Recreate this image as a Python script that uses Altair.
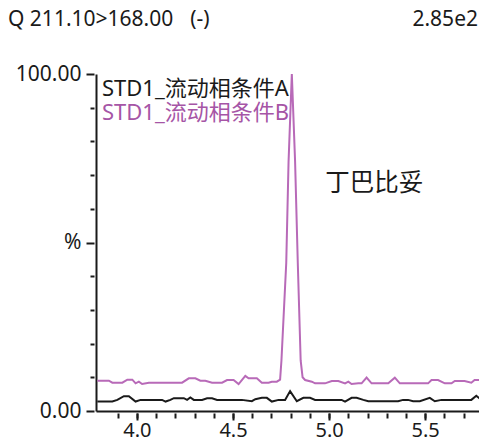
import altair as alt
import pandas as pd

# ---- data ----
A_x = [3.794, 3.872, 3.898, 3.932, 3.958, 3.993, 4.019, 4.131, 4.149, 4.174,
       4.192, 4.244, 4.261, 4.278, 4.296, 4.339, 4.365, 4.391, 4.417, 4.546,
       4.598, 4.616, 4.650, 4.676, 4.702, 4.737, 4.771, 4.797, 4.832, 4.866,
       4.901, 4.927, 5.065, 5.083, 5.117, 5.143, 5.178, 5.204, 5.359, 5.385,
       5.411, 5.437, 5.472, 5.524, 5.550, 5.585, 5.705, 5.740, 5.766, 5.792]
A_y = [2.8, 2.8, 3.3, 4.4, 4.4, 2.8, 3.3, 3.3, 2.8, 3.3,
       3.8, 3.8, 3.3, 4.0, 3.3, 3.3, 3.8, 3.8, 3.3, 3.3,
       2.9, 3.5, 3.9, 3.9, 2.8, 3.3, 3.3, 5.9, 2.9, 3.9,
       3.9, 3.3, 3.3, 2.8, 3.9, 3.9, 3.3, 2.9, 2.9, 3.3,
       3.3, 2.9, 2.9, 3.9, 2.9, 3.3, 3.3, 3.3, 4.5, 3.3]

B_x = [3.794, 3.854, 3.872, 3.924, 3.950, 3.976, 3.993, 4.010, 4.027, 4.062,
       4.235, 4.270, 4.304, 4.330, 4.356, 4.391, 4.443, 4.469, 4.503, 4.529,
       4.564, 4.581, 4.624, 4.650, 4.685, 4.702, 4.728, 4.745, 4.752, 4.777,
       4.789, 4.806, 4.823, 4.837, 4.852, 4.862, 4.875, 4.910, 4.927, 4.979,
       5.014, 5.048, 5.083, 5.100, 5.117, 5.152, 5.169, 5.195, 5.221, 5.308,
       5.342, 5.368, 5.515, 5.533, 5.567, 5.602, 5.637, 5.654, 5.705, 5.740,
       5.757, 5.792]
B_y = [9.0, 9.0, 8.4, 8.4, 9.3, 9.3, 8.2, 8.7, 8.0, 8.4,
       8.4, 9.7, 9.7, 9.0, 9.0, 8.4, 8.4, 9.2, 9.2, 8.0,
       10.4, 9.7, 9.7, 8.4, 8.4, 8.7, 8.7, 9.3, 15, 44,
       74, 100, 74, 44, 15, 10, 9.2, 8.7, 8.2, 8.2,
       8.9, 8.9, 8.2, 8.7, 8.0, 8.2, 8.2, 9.9, 8.2, 8.2,
       9.9, 8.2, 8.2, 9.2, 9.2, 8.2, 8.2, 8.9, 8.9, 8.4,
       9.2, 9.2]

series_names = ["STD1_流动相条件A", "STD1_流动相条件B"]
series_colors = ["#1a1a1a", "#b86ab8"]
legend_text_colors = ["#1a1a1a", "#a655a6"]
title_left = "Q 211.10>168.00"
title_mode = "(-)"
title_right = "2.85e2"
peak_label = ["丁巴比妥"]
peak_label_x = [4.98]
peak_label_y = [67.4]

x_major = [4.0, 4.5, 5.0, 5.5]
x_minor = [round(3.9 + 0.1 * i, 1) for i in range(19)]
y_major = [0, 50, 100]
y_minor = [10, 20, 30, 40, 60, 70, 80, 90]

FONT = "Noto Sans, Noto Sans CJK SC"
AX = "#1a1a1a"

xscale = alt.Scale(domain=[3.787, 5.78], nice=False, zero=False)
yscale = alt.Scale(domain=[0, 100], nice=False)

dfA = pd.DataFrame({"x": A_x, "y": A_y})
dfB = pd.DataFrame({"x": B_x, "y": B_y})
dfP = pd.DataFrame({"x": peak_label_x, "y": peak_label_y, "t": peak_label})
one = pd.DataFrame({"k": [0]})

lineA = alt.Chart(dfA).mark_line(color=series_colors[0], strokeWidth=2, clip=True).encode(
    x=alt.X("x:Q", scale=xscale, axis=alt.Axis(
        orient="bottom", values=x_major, format=".1f", domain=False, offset=2,
        tickSize=7, tickWidth=2, tickColor=AX, grid=False, title=None,
        labelFont=FONT, labelFontSize=20, labelColor=AX, labelPadding=0)),
    y=alt.Y("y:Q", scale=yscale, axis=alt.Axis(
        orient="left", values=y_major, domain=False, offset=2,
        tickSize=8, tickWidth=2, tickColor=AX, grid=False, title=None,
        labelExpr="datum.value == 100 ? '100.00' : datum.value == 0 ? '0.00' : '%'",
        labelFont=FONT, labelFontSize=21, labelColor=AX, labelPadding=5)),
)

lineB = alt.Chart(dfB).mark_line(color=series_colors[1], strokeWidth=2, clip=True).encode(
    x=alt.X("x:Q", scale=xscale, axis=alt.Axis(
        orient="bottom", values=x_minor, labels=False, domain=False, offset=2,
        tickSize=5, tickWidth=2, tickColor=AX, grid=False, title=None)),
    y=alt.Y("y:Q", scale=yscale, axis=alt.Axis(
        orient="left", values=y_minor, labels=False, domain=False, offset=2,
        tickSize=4, tickWidth=2, tickColor=AX, grid=False, title=None)),
)

peak = alt.Chart(dfP).mark_text(
    align="left", baseline="middle", font=FONT, fontSize=24.5, color=AX
).encode(
    x=alt.X("x:Q", scale=xscale, axis=alt.Axis(
        orient="bottom", ticks=False, labels=False, domain=True,
        domainColor=AX, domainWidth=2, grid=False, title=None)),
    y=alt.Y("y:Q", scale=yscale, axis=alt.Axis(
        orient="left", ticks=False, labels=False, domain=True,
        domainColor=AX, domainWidth=2, grid=False, title=None)),
    text="t:N",
)

legA = alt.Chart(one).mark_text(
    align="left", baseline="middle", font=FONT, fontSize=22,
    color=legend_text_colors[0], text=series_names[0]
).encode(x=alt.value(6), y=alt.value(15))
legB = alt.Chart(one).mark_text(
    align="left", baseline="middle", font=FONT, fontSize=22,
    color=legend_text_colors[1], text=series_names[1]
).encode(x=alt.value(6), y=alt.value(39))

tl = alt.Chart(one).mark_text(
    align="left", baseline="middle", font=FONT, fontSize=21, color=AX,
    text=title_left
).encode(x=alt.value(-88), y=alt.value(-54))
tm = alt.Chart(one).mark_text(
    align="center", baseline="middle", font=FONT, fontSize=21, color=AX,
    text=title_mode
).encode(x=alt.value(104), y=alt.value(-54))
tr = alt.Chart(one).mark_text(
    align="right", baseline="middle", font=FONT, fontSize=21, color=AX,
    text=title_right
).encode(x=alt.value(382), y=alt.value(-54))

chart = alt.layer(lineA, lineB, peak, legA, legB, tl, tm, tr).resolve_axis(
    x="independent", y="independent"
).resolve_scale(x="shared", y="shared").properties(
    width=383, height=337,
    padding={"left": 88, "top": 66, "right": 0, "bottom": 29},
    autosize=alt.AutoSizeParams(type="none"),
    background="white",
).configure_view(stroke=None)

chart.save("out.html", embed_options={"renderer": "svg", "actions": False})
